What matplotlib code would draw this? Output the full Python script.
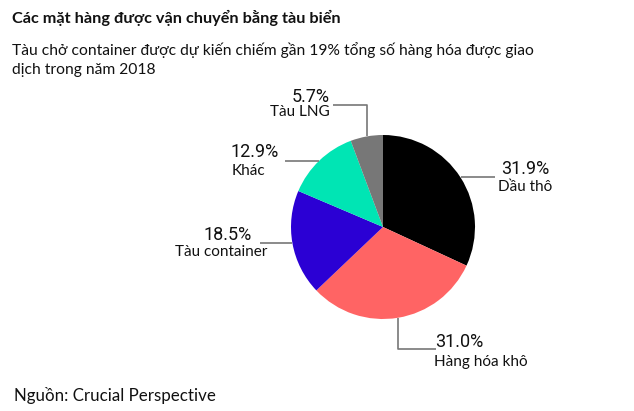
import numpy as np
import matplotlib.pyplot as plt

W, H = 634, 411

categories = ["Dầu thô", "Hàng hóa khô", "Tàu container", "Khác", "Tàu LNG"]
shares = [31.9, 31.0, 18.5, 12.9, 5.7]
colors = ["#000000", "#ff6464", "#2b00d4", "#00e5b4", "#777777"]

title = "Các mặt hàng được vận chuyển bằng tàu biển"
subtitle = ("Tàu chở container được dự kiến chiếm gần 19% tổng số hàng hóa được giao\n"
            "dịch trong năm 2018")
source = "Nguồn: Crucial Perspective"

# leader segments from wedge middle, in pixels (y down)
leaders = [[(34, 0)], [(0, 31), (38, 0)], [(-32, 0)], [(-34, 0)], [(0, -31), (-34, 0)]]
# (x, y of percent), (x, y of name), alignment  -- pixel coords, y down
label_pos = [
    ((501, 169), (498, 187), "left"),
    ((435, 342), (434, 362), "left"),
    ((252, 235), (267, 252), "right"),
    ((231, 152), (232, 171), "left"),
    ((330, 97), (330, 112), "right"),
]

cx, cy, r = 383, 227, 92

txt_font = ["Lato", "DejaVu Sans"]
pct_font = ["Roboto", "DejaVu Sans"]

fig = plt.figure(figsize=(W / 100, H / 100), dpi=100)
ax = fig.add_axes([0, 0, 1, 1])

wedges, _ = ax.pie(shares, colors=colors, startangle=90, counterclock=False,
                   center=(cx, H - cy), radius=r, wedgeprops=dict(linewidth=0))
ax.set_xlim(0, W)
ax.set_ylim(0, H)
ax.set_aspect("equal")
ax.axis("off")

for w, segs, (ppos, npos, ha), name, val in zip(wedges, leaders, label_pos,
                                                 categories, shares):
    mid = np.deg2rad((w.theta1 + w.theta2) / 2)
    x, y = cx + r * np.cos(mid), (H - cy) + r * np.sin(mid)
    xs, ys = [x], [y]
    for dx, dy in segs:
        x, y = x + dx, y - dy
        xs.append(x)
        ys.append(y)
    ax.plot(xs, ys, color="#777777", lw=1.2, solid_capstyle="butt")
    ax.text(ppos[0], H - ppos[1], f"{val:.1f}%", ha=ha, va="center",
            fontsize=13, family=pct_font, color="#111111")
    ax.text(npos[0], H - npos[1], name, ha=ha, va="center",
            fontsize=11, family=txt_font, color="#111111")

ax.text(12, H - 18, title, ha="left", va="center", fontsize=11.7,
        fontweight="bold", family=txt_font, color="#111111")
ax.text(12, H - 60, subtitle, ha="left", va="center", fontsize=11.25,
        family=txt_font, color="#111111", linespacing=1.45)
ax.text(14, H - 396, source, ha="left", va="center", fontsize=12.2,
        family=txt_font, color="#111111")

fig.savefig("out.png", dpi=100)
